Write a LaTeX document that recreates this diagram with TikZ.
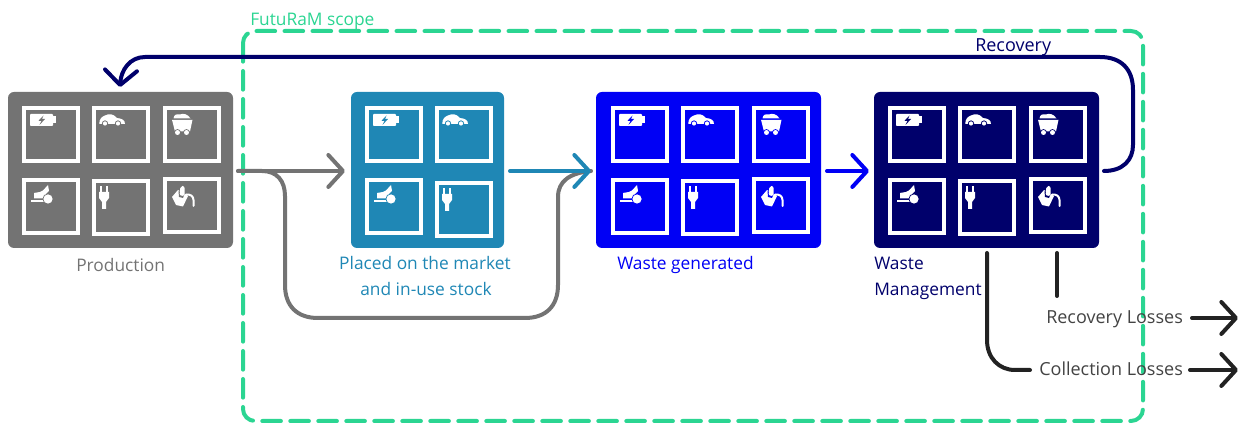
\documentclass[tikz,border=0pt]{standalone}
\usepackage{fontspec}
\setmainfont{Open Sans}
\usetikzlibrary{arrows.meta}
\definecolor{cgrey}{HTML}{737373}
\definecolor{cteal}{HTML}{1F87B5}
\definecolor{cblue}{HTML}{0000F5}
\definecolor{cnavy}{HTML}{00006B}
\definecolor{cgreen}{HTML}{2BD592}
\definecolor{cink}{HTML}{222222}
\tikzset{
  panel/.style={rounded corners=4.5pt,inner sep=0pt,outer sep=0pt,minimum height=117pt},
  tilebox/.style={draw=white,line width=3pt},
  flow/.style={line width=3pt,line cap=round,-{Straight Barb[length=11pt,width=24pt,line width=3pt,round]}},
  plainflow/.style={line width=3pt,line cap=round},
  lab/.style={font=\fontsize{13}{15}\selectfont,inner sep=0pt,anchor=base west},
  lossl/.style={font=\fontsize{13.5}{15}\selectfont,inner sep=0pt,anchor=base west},
  scopebox/.style={draw=cgreen,line width=3pt,rounded corners=9pt,line cap=round,dash pattern=on 14pt off 7pt},
}
% icons, local pixel coordinates of a 57 x 57 tile
\newcommand{\icbattery}[1]{%
  \fill[white,rounded corners=.6pt] (8,8) rectangle (31,20);
  \fill[white] (31,10.5) rectangle (34,17.5);
  \fill[#1] (21.5,9.5) -- (16.5,14.8) -- (19.5,14.8) -- (17.5,19) -- (23,13) -- (20,13) -- cycle;
}
\newcommand{\iccar}[1]{%
  \fill[white] (7.3,18) .. controls (7,13) and (10,10.5) .. (13,9.5) .. controls (17,7.5) and (21,7.5) .. (25,12) .. controls (30,12.5) and (33,14) .. (33,18) -- cycle;
  \fill[#1] (13,17.5) circle (3.1);
  \fill[white] (13,17.5) circle (2.1);
  \fill[#1] (26,17.5) circle (3.1);
  \fill[white] (26,17.5) circle (2.1);
}
\newcommand{\iccart}[1]{%
  \fill[white] (10.5,12.5) .. controls (11,8) and (14,8) .. (17,8.5) .. controls (20,7) and (25,8) .. (27.5,12.5) -- cycle;
  \fill[white] (9,13.8) -- (29.5,13.8) -- (27,25.5) -- (12,25.5) -- cycle;
  \fill[#1] (14.5,26.5) circle (3.4);
  \fill[white] (14.5,26.5) circle (2.5);
  \fill[#1] (23.5,26.5) circle (3.4);
  \fill[white] (23.5,26.5) circle (2.5);
}
\newcommand{\icdigger}[1]{%
  \fill[white] (9,22) rectangle (26,24.5);
  \fill[white] (12,15) -- (18,14) -- (21,12.5) -- (26,7) -- (27,13) -- (24,16) -- (24,20.5) -- (12,20.5) -- cycle;
  \fill[#1] (26,21) circle (5.5);
  \fill[white] (26,21) circle (4.6);
}
\newcommand{\icplug}[1]{%
  \fill[white] (8,7) rectangle (10.2,14);
  \fill[white] (13.8,7) rectangle (16,14);
  \fill[white] (7,13) -- (17,13) -- (17,19) -- (14,23) -- (14,30) -- (10,30) -- (10,23) -- (7,19) -- cycle;
}
\newcommand{\icbucket}[1]{%
  \fill[white] (9,20) -- (15,13) -- (25,19) -- (20,29.5) -- (13,28) -- cycle;
  \fill[#1] (15.5,14) -- (22,16) -- (20,21) -- (16,20) -- cycle;
  \fill[white,rounded corners=1.5pt] (16.5,18.5) -- (17.5,9) -- (21.5,9) -- (21.5,19) -- cycle;
  \draw[white,line width=1.5pt,line cap=round] (23,17.5) .. controls (27,17) and (30.5,19) .. (30.5,23) -- (30.5,29);
}
\newcommand{\tile}[4]{%
  \begin{scope}[shift={(#1,#2)}]
    \draw[tilebox] (2,2) rectangle (56,55.5);
    #3{#4}
  \end{scope}
}
\begin{document}
\begin{tikzpicture}[x=0.75pt,y=-0.75pt]
\useasboundingbox (0,0) rectangle (1243,423);
% scope
\draw[scopebox] (243,31) rectangle (1143,421);
\node[lab,text=cgreen] (scopelab) at (250,26) {FutuRaM scope};

% panels
\node[panel,fill=cgrey,minimum width=168.75pt] (prod) at (120.5,170) {};
\node[panel,fill=cteal,minimum width=114.75pt] (market) at (427.5,170) {};
\node[panel,fill=cblue,minimum width=168.75pt] (waste) at (708.5,170) {};
\node[panel,fill=cnavy,minimum width=168.75pt] (mgmt) at (986.5,170) {};

% six-tile panels
\foreach \off/\col in {0/cgrey,589/cblue,866/cnavy}{
  \tile{22+\off}{106}{\icbattery}{\col}
  \tile{92+\off}{106}{\iccar}{\col}
  \tile{163+\off}{106}{\iccart}{\col}
  \tile{22+\off}{178}{\icdigger}{\col}
  \tile{92+\off}{179}{\icplug}{\col}
  \tile{163+\off}{177}{\icbucket}{\col}
}
% four-tile panel
\tile{365}{106}{\icbattery}{cteal}
\tile{435}{106}{\iccar}{cteal}
\tile{365}{178}{\icdigger}{cteal}
\tile{435}{181}{\icplug}{cteal}

% connector ends
\coordinate (prodout) at (238,171);
\coordinate (marketin) at (345,171);
\coordinate (marketout) at (510,171);
\coordinate (wastein) at (591,171);
\coordinate (wasteout) at (827,171);
\coordinate (mgmtin) at (869,171);
\coordinate (mgmtout) at (1104,171);
\coordinate (prodin) at (120,87);
\coordinate (collstart) at (987,253);
\coordinate (collend) at (1030,370);
\coordinate (recstart) at (1057,253);
\coordinate (recend) at (1057,296);
\coordinate (recA) at (1192,318);
\coordinate (recB) at (1238,318);
\coordinate (colA) at (1190,370);
\coordinate (colB) at (1238,370);

% connectors
\draw[plainflow,cgrey] (prodout) -- (262,171) .. controls (277,171) and (285,181) .. (285,196) -- (285,285) .. controls (285,306) and (297,318) .. (318,318) -- (525,318) .. controls (546,318) and (558,306) .. (558,285) -- (558,197) .. controls (558,181) and (570,173) .. (wastein);
\draw[flow,cgrey] (prodout) -- (marketin);
\draw[flow,cteal] (marketout) -- (wastein);
\draw[flow,cblue] (wasteout) -- (mgmtin);
\draw[flow,cnavy] (mgmtout) .. controls (1123,171) and (1133,160) .. (1133,145) -- (1133,90) .. controls (1133,69) and (1121,57) .. (1100,57) -- (145,57) .. controls (130,57) and (121,70) .. (prodin);
\draw[plainflow,cink] (collstart) -- (987,340) .. controls (987,358) and (999,370) .. (1015,370) -- (collend);
\draw[plainflow,cink] (recstart) -- (recend);
\draw[flow,cink] (recA) -- (recB);
\draw[flow,cink] (colA) -- (colB);

% labels
\node[lossl,text=cnavy] (recovery) at (975,52) {Recovery};
\node[lab,text=cgrey] (prodlab) at (76,272) {Production};
\node[lab,text=cteal,anchor=base] (m1) at (425,270) {Placed on the market};
\node[lab,text=cteal,anchor=base] (m2) at (426,296) {and in-use stock};
\node[lab,text=cblue] (wastelab) at (617,270) {Waste generated};
\node[lab,text=cnavy] (w1) at (874,270) {Waste};
\node[lab,text=cnavy] (w2) at (874,296) {Management};
\node[lossl,text=cink!85] (reclab) at (1046,324) {Recovery Losses};
\node[lossl,text=cink!85] (collab) at (1039,376) {Collection Losses};
\end{tikzpicture}
\end{document}
